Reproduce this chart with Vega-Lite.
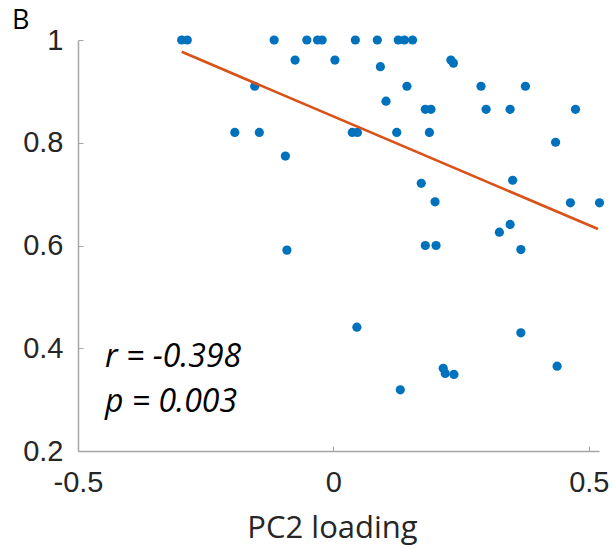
{
  "$schema": "https://vega.github.io/schema/vega-lite/v6.json",
  "width": 521,
  "height": 411,
  "autosize": {"type": "none"},
  "padding": {"left": 78, "top": 40, "right": 16, "bottom": 99},
  "background": "white",
  "config": {"view": {"stroke": null}},
  "title": {"text": "B", "anchor": "start", "frame": "group", "dx": -66, "dy": 40, "offset": 10, "baseline": "alphabetic", "font": "Open Sans", "fontSize": 27, "fontWeight": "normal", "color": "#000000"},
  "datasets": {
    "points": [
      {"pc2": -0.297, "value": 1.0}, {"pc2": -0.286, "value": 1.0}, {"pc2": -0.116, "value": 1.0}, {"pc2": -0.052, "value": 1.0},
      {"pc2": -0.031, "value": 1.0}, {"pc2": -0.022, "value": 1.0}, {"pc2": 0.043, "value": 1.0}, {"pc2": 0.086, "value": 1.0},
      {"pc2": 0.127, "value": 1.0}, {"pc2": 0.139, "value": 1.0}, {"pc2": 0.155, "value": 1.0},
      {"pc2": -0.075, "value": 0.961}, {"pc2": 0.003, "value": 0.961}, {"pc2": 0.230, "value": 0.961}, {"pc2": 0.235, "value": 0.955},
      {"pc2": 0.092, "value": 0.948},
      {"pc2": -0.154, "value": 0.910}, {"pc2": 0.144, "value": 0.910}, {"pc2": 0.289, "value": 0.910}, {"pc2": 0.376, "value": 0.910},
      {"pc2": 0.103, "value": 0.881},
      {"pc2": 0.180, "value": 0.865}, {"pc2": 0.191, "value": 0.865}, {"pc2": 0.299, "value": 0.865}, {"pc2": 0.346, "value": 0.865}, {"pc2": 0.474, "value": 0.865},
      {"pc2": -0.193, "value": 0.820}, {"pc2": -0.145, "value": 0.820}, {"pc2": 0.037, "value": 0.820}, {"pc2": 0.047, "value": 0.820}, {"pc2": 0.124, "value": 0.820}, {"pc2": 0.188, "value": 0.820},
      {"pc2": 0.435, "value": 0.801},
      {"pc2": -0.094, "value": 0.774},
      {"pc2": 0.172, "value": 0.721}, {"pc2": 0.351, "value": 0.727},
      {"pc2": 0.199, "value": 0.685}, {"pc2": 0.464, "value": 0.683}, {"pc2": 0.521, "value": 0.683},
      {"pc2": 0.346, "value": 0.641}, {"pc2": 0.325, "value": 0.626},
      {"pc2": 0.180, "value": 0.600}, {"pc2": 0.201, "value": 0.600},
      {"pc2": -0.091, "value": 0.591}, {"pc2": 0.367, "value": 0.592},
      {"pc2": 0.046, "value": 0.441}, {"pc2": 0.367, "value": 0.430},
      {"pc2": 0.215, "value": 0.361}, {"pc2": 0.219, "value": 0.351}, {"pc2": 0.236, "value": 0.349}, {"pc2": 0.438, "value": 0.365},
      {"pc2": 0.131, "value": 0.319}
    ],
    "fit": [
      {"pc2": -0.297, "value": 0.977},
      {"pc2": 0.518, "value": 0.632}
    ]
  },
  "layer": [
    {
      "data": {"name": "points"},
      "mark": {"type": "point", "filled": true, "size": 85, "color": "#0072BD", "opacity": 1, "strokeWidth": 0},
      "encoding": {
        "x": {
          "field": "pc2", "type": "quantitative",
          "scale": {"domain": [-0.5, 0.52], "nice": false, "zero": false},
          "axis": {
            "values": [-0.5, 0, 0.5], "format": "~g", "labelExpr": "replace(datum.label, '\u2212', '-')",
            "grid": false, "labelFlush": false, "labelOverlap": false,
            "domainColor": "#a6a6a6", "domainWidth": 1.5, "tickColor": "#a6a6a6", "tickWidth": 1, "tickSize": -5,
            "labelFont": "Liberation Sans", "labelFontSize": 29, "labelColor": "#262626", "labelPadding": 22,
            "title": "PC2 loading", "titleFont": "Open Sans", "titleFontSize": 31, "titleFontWeight": "normal", "titleColor": "#262626", "titlePadding": 16,
            "titleX": 254, "titleAlign": "center"
          }
        },
        "y": {
          "field": "value", "type": "quantitative",
          "scale": {"domain": [0.2, 1], "nice": false, "zero": false},
          "axis": {
            "values": [0.2, 0.4, 0.6, 0.8, 1], "format": "~g",
            "grid": false, "labelOverlap": false, "labelFlush": false,
            "domainColor": "#a6a6a6", "domainWidth": 1.5, "tickColor": "#a6a6a6", "tickWidth": 1, "tickSize": -5,
            "labelFont": "Liberation Sans", "labelFontSize": 29, "labelColor": "#262626", "labelPadding": 20,
            "title": null
          }
        }
      }
    },
    {
      "data": {"name": "fit"},
      "mark": {"type": "line", "color": "#D95319", "strokeWidth": 2.7},
      "encoding": {
        "x": {"field": "pc2", "type": "quantitative"},
        "y": {"field": "value", "type": "quantitative"}
      }
    },
    {
      "data": {"values": [{"label": "r = -0.398"}]},
      "mark": {"type": "text", "align": "left", "baseline": "alphabetic", "font": "Open Sans", "fontSize": 32, "fontStyle": "italic", "color": "#000000"},
      "encoding": {
        "text": {"field": "label"},
        "x": {"datum": -0.447},
        "y": {"datum": 0.364}
      }
    },
    {
      "data": {"values": [{"label": "p = 0.003"}]},
      "mark": {"type": "text", "align": "left", "baseline": "alphabetic", "font": "Open Sans", "fontSize": 32, "fontStyle": "italic", "color": "#000000"},
      "encoding": {
        "text": {"field": "label"},
        "x": {"datum": -0.447},
        "y": {"datum": 0.2765}
      }
    }
  ]
}
